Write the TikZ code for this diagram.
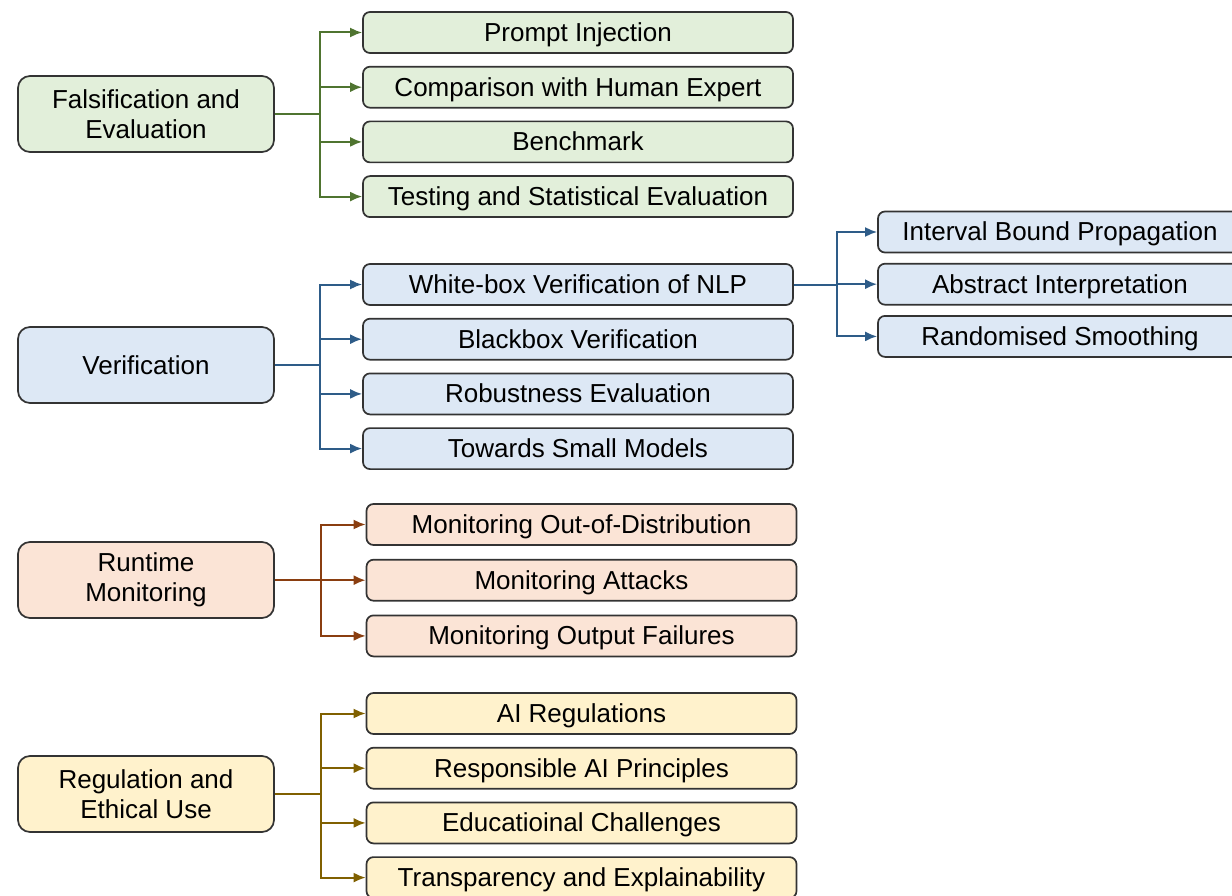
\documentclass[tikz,border=0pt]{standalone}
\usepackage{fontspec}
\setmainfont{Liberation Sans}
\usetikzlibrary{arrows.meta,positioning}

\definecolor{gfill}{HTML}{E2EFDA}
\definecolor{gline}{HTML}{4F7430}
\definecolor{bfill}{HTML}{DDE8F5}
\definecolor{bline}{HTML}{2E5C88}
\definecolor{rfill}{HTML}{FBE4D6}
\definecolor{rline}{HTML}{8A3E10}
\definecolor{yfill}{HTML}{FFF2CC}
\definecolor{yline}{HTML}{806000}

\begin{document}
\begin{tikzpicture}[
      x=1pt, y=-1pt,
      node distance=12pt,
      font=\fontsize{26}{30}\selectfont,
      topic/.style={
          rectangle,
          draw=black!80,
          line width=1.7pt,
          rounded corners=12pt,
          align=center,
          minimum width=256pt,
          minimum height=76pt,
          inner sep=4pt
        },
      leaf/.style={
          rectangle,
          draw=black!80,
          line width=1.7pt,
          rounded corners=7pt,
          minimum width=430pt,
          minimum height=41pt,
          text height=21pt,
          text depth=3pt,
          inner sep=3pt
        },
      subleaf/.style={leaf, minimum width=364pt},
      trunk/.style={line width=2.8pt},
      arrow/.style={-{Latex[length=12pt,width=10pt]}, line width=2pt}
    ]
    \useasboundingbox (0,0) rectangle (1232,896);

    % falsification and evaluation
    \node[topic, fill=gfill] (fals) at (146,114) {Falsification and\\Evaluation};
    \node[leaf, fill=gfill] (prompt) at (578,32.5) {Prompt Injection};
    \node[leaf, fill=gfill, below=of prompt] (human) {Comparison with Human Expert};
    \node[leaf, fill=gfill, below=of human] (bench) {Benchmark};
    \node[leaf, fill=gfill, below=of bench] (testing) {Testing and Statistical Evaluation};
    \coordinate (fj) at (320,114);
    \draw[trunk, gline] (fals.east) -- (fj);
    \draw[arrow, gline] (fj) |- (prompt.west);
    \draw[arrow, gline] (fj) |- (human.west);
    \draw[arrow, gline] (fj) |- (bench.west);
    \draw[arrow, gline] (fj) |- (testing.west);

    % verification
    \node[topic, fill=bfill] (verif) at (146,365) {Verification};
    \node[leaf, fill=bfill] (whitebox) at (578,284.5) {White-box Verification of NLP};
    \node[leaf, fill=bfill, below=of whitebox] (blackbox) {Blackbox Verification};
    \node[leaf, fill=bfill, below=of blackbox] (robust) {Robustness Evaluation};
    \node[leaf, fill=bfill, below=of robust] (small) {Towards Small Models};
    \coordinate (vj) at (320,365);
    \draw[trunk, bline] (verif.east) -- (vj);
    \draw[arrow, bline] (vj) |- (whitebox.west);
    \draw[arrow, bline] (vj) |- (blackbox.west);
    \draw[arrow, bline] (vj) |- (robust.west);
    \draw[arrow, bline] (vj) |- (small.west);

    \node[subleaf, fill=bfill] (ibp) at (1060,232) {Interval Bound Propagation};
    \node[subleaf, fill=bfill, below=9.5pt of ibp] (absint) {Abstract Interpretation};
    \node[subleaf, fill=bfill, below=9.5pt of absint] (smooth) {Randomised Smoothing};
    \coordinate (wj) at (837,284.5);
    \draw[line width=2pt, bline] (whitebox.east) -- (wj);
    \draw[arrow, bline] (wj) |- (ibp.west);
    \draw[arrow, bline] (wj) |- (absint.west);
    \draw[arrow, bline] (wj) |- (smooth.west);

    % runtime monitoring
    \node[topic, fill=rfill] (runtime) at (146,580) {Runtime\\Monitoring};
    \node[leaf, fill=rfill] (ood) at (581.5,524.5) {Monitoring Out-of-Distribution};
    \node[leaf, fill=rfill, below=13pt of ood] (attacks) {Monitoring Attacks};
    \node[leaf, fill=rfill, below=13pt of attacks] (failures) {Monitoring Output Failures};
    \coordinate (rj) at (321,580);
    \draw[trunk, rline] (runtime.east) -- (rj);
    \draw[arrow, rline] (rj) |- (ood.west);
    \draw[arrow, rline] (rj) |- (attacks.west);
    \draw[arrow, rline] (rj) |- (failures.west);

    % regulation and ethical use
    \node[topic, fill=yfill] (regul) at (146,794) {Regulation and\\Ethical Use};
    \node[leaf, fill=yfill] (airegs) at (581.5,713.5) {AI Regulations};
    \node[leaf, fill=yfill, below=of airegs] (respons) {Responsible AI Principles};
    \node[leaf, fill=yfill, below=of respons] (educ) {Educatioinal Challenges};
    \node[leaf, fill=yfill, below=of educ] (transp) {Transparency and Explainability};
    \coordinate (ej) at (321,794);
    \draw[trunk, yline] (regul.east) -- (ej);
    \draw[arrow, yline] (ej) |- (airegs.west);
    \draw[arrow, yline] (ej) |- (respons.west);
    \draw[arrow, yline] (ej) |- (educ.west);
    \draw[arrow, yline] (ej) |- (transp.west);
  \end{tikzpicture}
\end{document}
